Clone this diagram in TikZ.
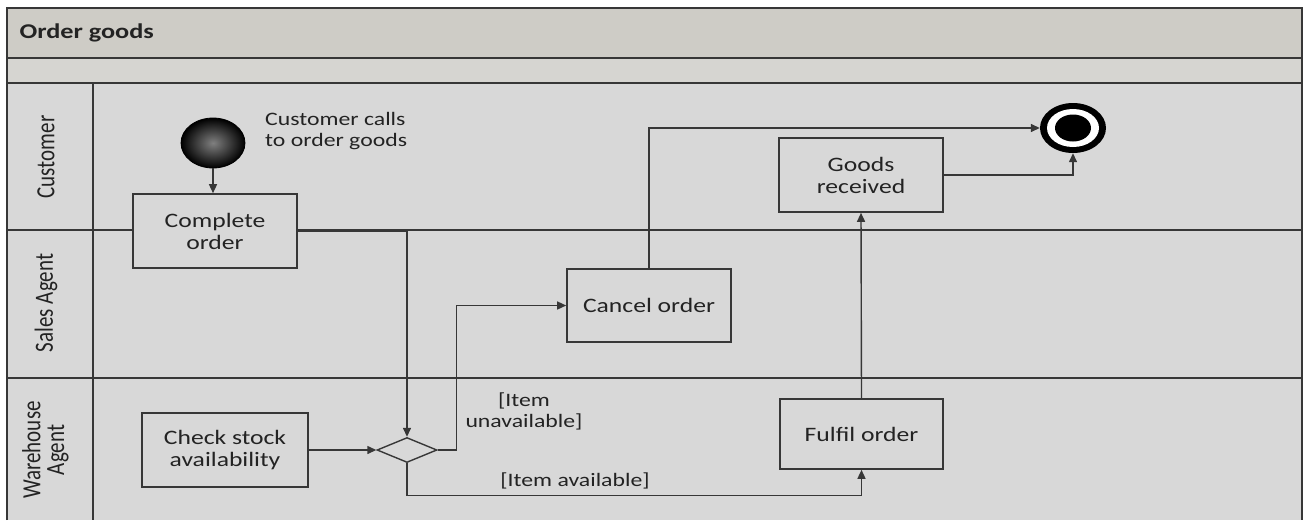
\documentclass[tikz,border=0pt]{standalone}
\usepackage{fontspec}
\setmainfont{Carlito}
\newfontfamily\wfont[FakeStretch=1.25]{Carlito}
\usetikzlibrary{shapes.geometric,arrows.meta,calc}
\definecolor{lanebg}{RGB}{216,216,216}
\definecolor{titlebg}{RGB}{206,204,198}
\definecolor{subbg}{RGB}{214,213,209}
\definecolor{ink}{RGB}{55,55,55}
\definecolor{txt}{RGB}{35,35,35}
\begin{document}
\begin{tikzpicture}[x=1pt,y=-1pt,
  lane/.style={draw=ink,line width=1.5pt},
  actbox/.style={draw=ink,line width=1.6pt,fill=lanebg,rectangle,minimum width=164pt,minimum height=74pt,align=center,text=txt,
    font=\wfont\fontsize{20.5}{22}\selectfont},
  conn/.style={draw=ink,line width=1.4pt,-{Triangle[length=9pt,width=8pt]}},
  lbl/.style={text=txt,font=\wfont\fontsize{19}{21}\selectfont,align=center},
  lanelbl/.style={text=txt,rotate=90,font=\fontsize{21}{20}\selectfont,align=center}
]
\useasboundingbox (0,0) rectangle (1304,520);
\fill[white] (0,0) rectangle (1304,520);
% frame and bands
\fill[lanebg] (7,8) rectangle (1302,520);
\fill[titlebg] (7,8) rectangle (1302,58);
\fill[subbg] (7,58) rectangle (1302,83);
\draw[lane] (7,520) -- (7,8) -- (1302,8) -- (1302,520);
\draw[lane] (7,58) -- (1302,58);
\draw[lane] (7,83) -- (1302,83);
\draw[lane] (7,230) -- (1302,230);
\draw[lane] (7,378) -- (1302,378);
\draw[lane] (93,83) -- (93,520);
\node[anchor=west,text=txt,font=\wfont\bfseries\fontsize{21}{24}\selectfont] (title) at (16,33) {Order goods};
% lane labels
\node[lanelbl] (lcust) at (46,157) {\scalebox{1}[1.25]{Customer}};
\node[lanelbl] (lsales) at (46,303) {\scalebox{1}[1.25]{Sales Agent}};
\node[lanelbl] (lware) at (47,450) {\scalebox{1}[1.25]{\begin{tabular}{@{}c@{}}Warehouse\\[-1pt]Agent\end{tabular}}};
% nodes
\node[ellipse,minimum width=64pt,minimum height=50pt,inner sep=0pt,draw=black,line width=0.8pt,inner color=black!50,outer color=black] (start) at (213,143) {};
\node[lbl,anchor=north west,align=left,inner sep=0pt] (note) at (265,112) {Customer calls\\to order goods};
\node[actbox] (complete) at (215,231) {Complete\\order};
\node[actbox,minimum width=166pt] (check) at (225,450) {Check stock\\availability};
\node[diamond,draw=ink,line width=1.4pt,fill=lanebg,minimum width=60pt,minimum height=25pt,inner sep=0pt] (dec) at (407,450) {};
\node[actbox,minimum height=73pt] (cancel) at (649,305.5) {Cancel order};
\node[actbox] (goods) at (861,175) {Goods\\received};
\node[actbox,minimum width=163pt,minimum height=70pt] (fulfil) at (861.5,434) {Fulfil order};
\node[ellipse,minimum width=66pt,minimum height=50pt,inner sep=0pt,fill=black] (end) at (1073,128) {};
\fill[white] (end.center) ellipse [x radius=26pt,y radius=19pt];
\fill[black] (end.center) ellipse [x radius=18pt,y radius=13.5pt];
% labels
\node[lbl] (lunav) at (524,411) {[Item\\unavailable]};
\node[lbl] (lav) at (575,481) {[Item available]};
% connectors
\draw[conn] (start.south) -- (start.south |- complete.north);
\draw[conn] (complete.east) -| (dec.north);
\draw[conn] (check.east) -- (dec.west);
\draw[conn] (dec.east) -- ++(19,0) |- (cancel.west);
\draw[conn] (dec.south) -- ++(0,32) -| (fulfil.south);
\draw[conn] (fulfil.north) -- (goods.south);
\draw[conn] (cancel.north) |- (end.west);
\draw[conn] (goods.east) -| (end.south);
\end{tikzpicture}
\end{document}
